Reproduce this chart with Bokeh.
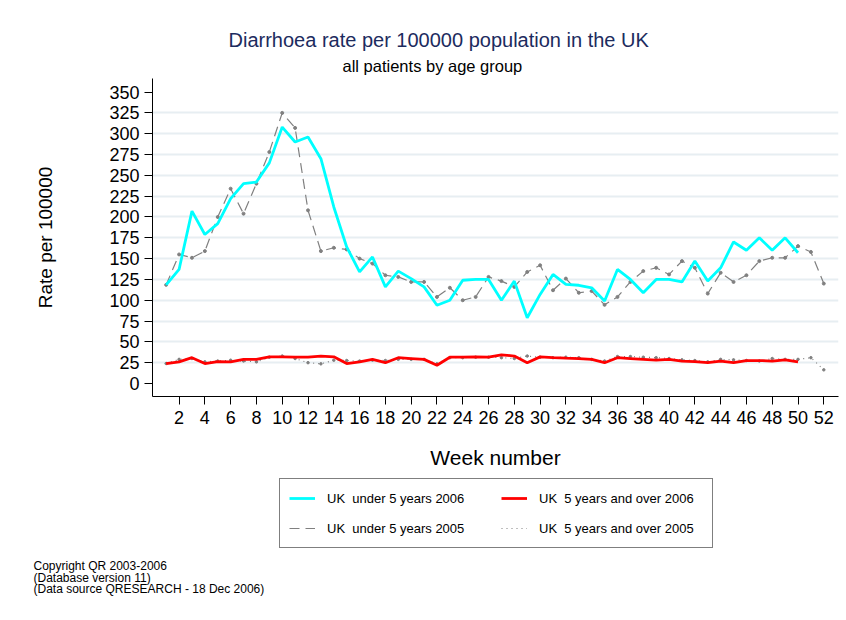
from bokeh.plotting import figure
from bokeh.layouts import column
from bokeh.models import (Range1d, FixedTicker, Legend, LegendItem, Title)
from bokeh.core.properties import value
from bokeh.embed import file_html
from bokeh.resources import INLINE

# ---- data ----
under5_2006 = [118.5, 137, 207, 179, 192, 222, 240, 242, 265, 308,
               290, 296, 270, 212, 164, 134, 152, 116, 135, 126,
               116, 94, 100, 124, 125, 125, 100, 123, 79, 107,
               131, 119, 118, 115, 99, 137, 125, 109, 125, 125,
               122, 147, 123, 139, 170, 160, 175, 160, 175, 157]
under5_2005 = [118.5, 155, 151, 159, 200, 234, 204, 240, 278, 325,
               307, 208, 159, 163, 161, 150, 144, 130, 128, 122,
               122, 104, 115, 100, 104, 128, 123, 116, 134, 142,
               112, 126, 109, 111, 94.5, 104, 122, 135, 139, 131,
               147, 139, 108, 133, 122, 130, 147, 151, 151, 165,
               158, 120]
over5_2006 = [24, 26, 31, 24, 26.4, 26, 29, 29, 32, 32,
              31.6, 31.6, 33, 32, 24, 26, 29, 25, 31, 30,
              29, 22, 31.6, 31.6, 32, 31.6, 34.4, 33, 25, 32,
              31, 30.4, 30, 29, 25, 31, 30, 29, 28, 29,
              27, 26.4, 25, 27, 25, 27.6, 27.6, 27, 28.4, 26]
over5_2005 = [24, 29, 30, 26, 27, 28, 27, 26, 31.6, 33,
              30, 25, 23.6, 28, 27.6, 27, 28, 27.6, 29, 29,
              29, 23.6, 31, 31, 31.6, 31.6, 31, 30, 33, 31.6,
              31, 31.6, 31, 29, 27, 32.4, 32.4, 31.6, 31, 30,
              28.4, 27.6, 26, 29, 28.4, 27.6, 27, 30, 29, 29,
              31, 16.4]
weeks_2006 = list(range(1, len(under5_2006) + 1))
weeks_2005 = list(range(1, len(under5_2005) + 1))
y_ticks = list(range(0, 351, 25))
x_ticks = list(range(2, 53, 2))
grid_ticks = list(range(25, 326, 25))

title_text = "Diarrhoea rate per 100000 population in the UK"
subtitle_text = "all patients by age group"
copyright_lines = ["Copyright QR 2003-2006", "(Database version 11)",
                   "(Data source QRESEARCH - 18 Dec 2006)"]
legend_labels = ["UK  under 5 years 2006", "UK  under 5 years 2005",
                 "UK  5 years and over 2006", "UK  5 years and over 2005"]

FONT = "Liberation Sans"
CYAN = "#00ffff"
RED = "#ff0000"
GREY = "#808080"

# ---------------- main chart ----------------
p = figure(width=846, height=478, output_backend="svg", toolbar_location=None,
           x_range=Range1d(-0.06, 53.14), y_range=Range1d(-15.6, 366.3),
           min_border_left=152, min_border_right=8, min_border_top=78,
           min_border_bottom=82, title=None)
p.outline_line_color = None
p.background_fill_color = "white"
p.border_fill_color = "white"

p.xgrid.visible = False
p.ygrid.ticker = FixedTicker(ticks=grid_ticks)
p.ygrid.grid_line_color = "#e7eef2"
p.ygrid.grid_line_width = 2

for ax in (p.xaxis[0], p.yaxis[0]):
    ax.axis_line_color = "black"
    ax.axis_line_width = 1
    ax.major_tick_line_color = "black"
    ax.major_tick_out = 8
    ax.major_tick_in = 0
    ax.minor_tick_line_color = None
    ax.major_label_text_font = FONT
    ax.major_label_text_font_size = "18px"
    ax.major_label_text_color = "black"
    ax.axis_label_text_font = FONT
    ax.axis_label_text_font_style = "normal"
    ax.axis_label_text_color = "black"

p.xaxis.ticker = FixedTicker(ticks=x_ticks)
p.yaxis.ticker = FixedTicker(ticks=y_ticks)
p.xaxis.major_label_standoff = 6
p.yaxis.major_label_standoff = 5
p.xaxis.axis_label = "Week number"
p.xaxis.axis_label_text_font_size = "21px"
p.xaxis.axis_label_standoff = 19
p.yaxis.axis_label = "Rate per 100000"
p.yaxis.axis_label_text_font_size = "19px"
p.yaxis.axis_label_standoff = 50

p.line(weeks_2005, under5_2005, line_color=GREY, line_width=1.2,
       line_dash="10 6")
p.scatter(weeks_2005, under5_2005, size=3, color=GREY)
p.line(weeks_2005, over5_2005, line_color=GREY, line_width=1.2,
       line_dash="1 4")
p.scatter(weeks_2005, over5_2005, size=2.5, color=GREY)
p.line(weeks_2006, under5_2006, line_color=CYAN, line_width=2.8)
p.line(weeks_2006, over5_2006, line_color=RED, line_width=2.8)

# titles above (first added sits nearest the frame)
p.add_layout(Title(text=subtitle_text, align="left", offset=190,
                   text_font=FONT, text_font_size="16.5px",
                   text_font_style="normal", text_color="black",
                   standoff=8), "above")
p.add_layout(Title(text=title_text, align="left", offset=76,
                   text_font=FONT, text_font_size="20px",
                   text_font_style="normal", text_color="#1c2b5e",
                   standoff=0), "above")

# ---------------- legend + notes strip ----------------
q = figure(width=846, height=142, output_backend="svg", toolbar_location=None,
           x_range=Range1d(0, 846), y_range=Range1d(142, 0),
           x_axis_location=None, y_axis_location=None,
           min_border_left=0, min_border_right=0, min_border_top=0,
           min_border_bottom=0, title=None)
q.outline_line_color = None
q.xgrid.visible = False
q.ygrid.visible = False
q.background_fill_color = "white"
q.border_fill_color = "white"

for fig in (p, q):
    if "frame_align" in fig.properties():
        fig.frame_align = False

# hidden copies of the series, used only to draw the legend samples
l1 = q.line(weeks_2006, under5_2006, line_color=CYAN, line_width=2.8,
            visible=False)
l2 = q.line(weeks_2005, under5_2005, line_color=GREY, line_width=1.2,
            line_dash="10 6", visible=False)
l3 = q.line(weeks_2006, over5_2006, line_color=RED, line_width=2.8,
            visible=False)
l4 = q.line(weeks_2005, over5_2005, line_color=GREY, line_width=1.2,
            line_dash="1 4", visible=False)

legend = Legend(items=[
    LegendItem(label=legend_labels[0], renderers=[l1]),
    LegendItem(label=legend_labels[1], renderers=[l2]),
    LegendItem(label=legend_labels[2], renderers=[l3]),
    LegendItem(label=legend_labels[3], renderers=[l4]),
], location=(279, 72), orientation="vertical", ncols=2)
legend.margin = 0
legend.padding = 9
legend.spacing = 10
legend.glyph_width = 26
legend.glyph_height = 20
legend.label_standoff = 12
legend.label_width = 164
legend.label_height = 20
legend.label_text_font = FONT
legend.label_text_font_size = "13px"
legend.label_text_color = "black"
legend.border_line_color = "black"
legend.border_line_width = 1
legend.background_fill_color = "white"
legend.background_fill_alpha = 1
legend.inactive_fill_alpha = 0
q.add_layout(legend, "center")

q.text(x=[33, 33, 33], y=[87, 99, 110.5], text=copyright_lines,
       text_font=value(FONT), text_font_size="12px", text_color="black",
       text_align="left", text_baseline="middle")

layout = column(p, q, spacing=0)
open("out.html", "w").write(file_html(layout, INLINE))
